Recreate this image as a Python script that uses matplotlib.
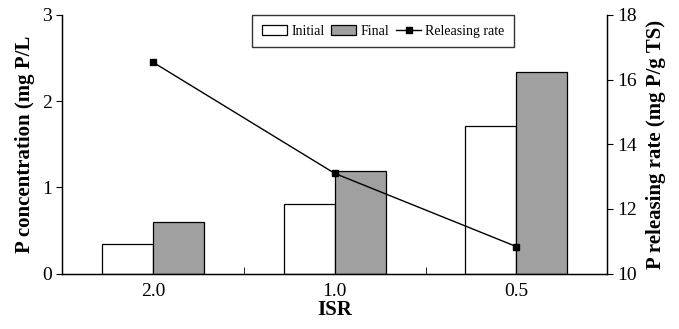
import matplotlib.pyplot as plt
import numpy as np

plt.rcParams['font.family'] = 'Liberation Serif'

# data
isr = ['2.0', '1.0', '0.5']
initial = [0.35, 0.81, 1.715]
final = [0.60, 1.19, 2.34]
rate = [16.53, 13.1, 10.84]

x = np.arange(len(isr))
w = 0.28

fig, ax = plt.subplots(figsize=(6.79, 3.29), dpi=100)
fig.subplots_adjust(left=0.092, right=0.894, top=0.955, bottom=0.168)

b1 = ax.bar(x - w / 2, initial, w, color='white', edgecolor='black', linewidth=0.9, label='Initial')
b2 = ax.bar(x + w / 2, final, w, color='#a0a0a0', edgecolor='black', linewidth=0.9, label='Final')

ax.set_xlim(-0.5, 2.5)
ax.set_ylim(0, 3)
ax.set_yticks([0, 1, 2, 3])
ax.set_xticks(x)
ax.set_xticklabels(isr)
ax.set_xticks([0.5, 1.5], minor=True)
ax.tick_params(axis='x', which='major', length=0, labelsize=14, pad=7)
ax.tick_params(axis='x', which='minor', direction='in', length=5)
ax.tick_params(axis='y', labelsize=14, direction='out', length=4)
ax.set_xlabel('ISR', fontsize=15, fontweight='bold', labelpad=0)
ax.set_ylabel('P concentration (mg P/L', fontsize=15, fontweight='bold', labelpad=5)
ax.spines['top'].set_visible(False)
for s in ax.spines.values():
    s.set_linewidth(1.0)

ax2 = ax.twinx()
l1, = ax2.plot(x, rate, color='black', linewidth=1, marker='s', markersize=4, label='Releasing rate')
ax2.set_ylim(10, 18)
ax2.set_yticks([10, 12, 14, 16, 18])
ax2.tick_params(axis='y', labelsize=14, direction='out', length=4)
ax2.set_ylabel('P releasing rate (mg P/g TS)', fontsize=15, fontweight='bold', labelpad=6)
ax2.spines['top'].set_visible(False)

leg = ax2.legend([b1, b2, l1], ['Initial', 'Final', 'Releasing rate'], loc='upper center',
                 bbox_to_anchor=(0.589, 1.0), ncol=3, fontsize=10, frameon=True, fancybox=False,
                 edgecolor='black', handlelength=1.8, handletextpad=0.3, columnspacing=0.5,
                 borderpad=0.7, borderaxespad=0.0)
leg.get_frame().set_linewidth(1.0)

fig.savefig('out.png', dpi=100)
